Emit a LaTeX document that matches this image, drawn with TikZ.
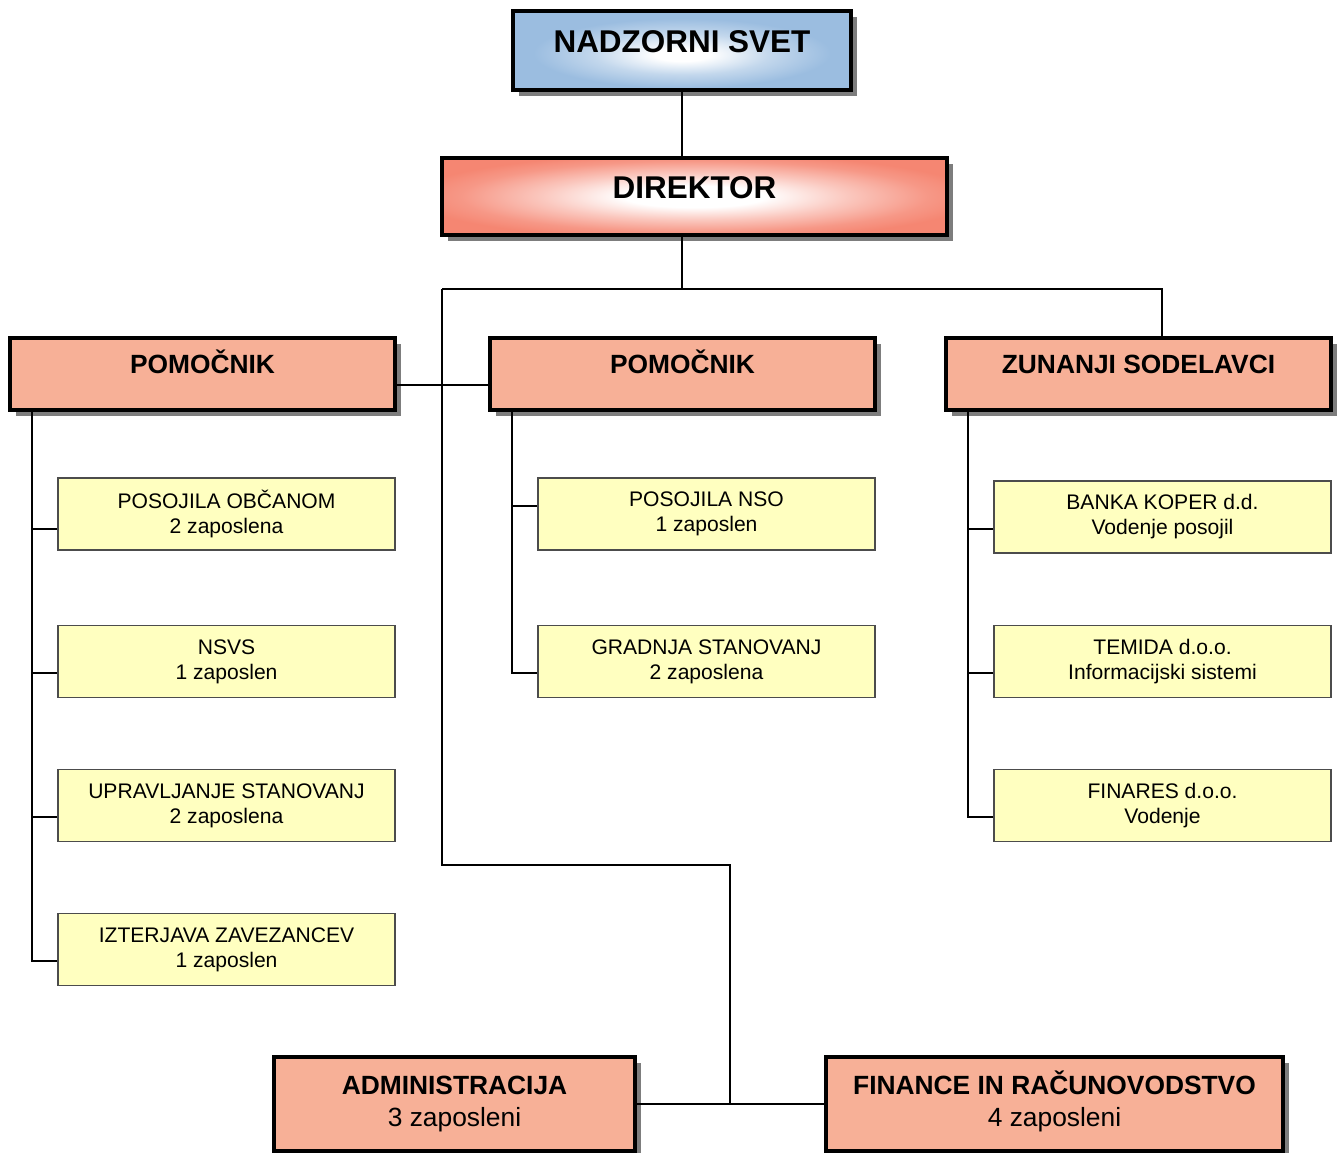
\documentclass[tikz,border=0pt]{standalone}
\usepackage{fontspec}
\setmainfont{Liberation Sans}
\usetikzlibrary{shadows}
\definecolor{svetblue}{RGB}{155,189,224}
\definecolor{dirred}{RGB}{245,134,114}
\definecolor{salmon}{RGB}{247,176,151}
\definecolor{paleyellow}{RGB}{255,255,192}
\definecolor{shadowgray}{RGB}{125,125,125}
\pgfdeclareradialshading{svetglow}{\pgfpoint{0bp}{-3bp}}{color(0bp)=(white); color(4bp)=(white);
  color(13bp)=(svetblue!60!white); color(22bp)=(svetblue); color(50bp)=(svetblue)}
\pgfdeclareradialshading{dirglow}{\pgfpoint{0bp}{0bp}}{color(0bp)=(white); color(7bp)=(white);
  color(15bp)=(dirred!45!white); color(23bp)=(dirred!85!white); color(28bp)=(dirred); color(50bp)=(dirred)}
\tikzset{
  mainbox/.style={draw, line width=2.2pt, rectangle,
    drop shadow={shadow xshift=0.12cm, shadow yshift=-0.12cm, fill=shadowgray, opacity=1}},
  topbox/.style={mainbox, font={\fontsize{17.9}{21.5}\selectfont\bfseries},
    text height=0.72em, text depth=0.5em},
  headbox/.style={mainbox, fill=salmon, minimum width=7.7cm, minimum height=1.44cm,
    font={\fontsize{15}{18}\selectfont\bfseries}, text height=0.72em, text depth=0.76em},
  staffbox/.style={mainbox, fill=salmon, minimum height=1.88cm, align=center,
    font={\fontsize{15}{18.1}\selectfont}, text height=28.8pt, text depth=3.2pt},
  unitbox/.style={draw=black!70, line width=0.9pt, fill=paleyellow, minimum width=6.74cm,
    minimum height=1.44cm, align=center, font={\fontsize{12}{14.2}\selectfont}},
  link/.style={line width=1.1pt}
}
\begin{document}
\begin{tikzpicture}[x=0.02cm, y=-0.02cm]
    \useasboundingbox (0,0) rectangle (1340,1153);
    % top of the chart
    \node[topbox, shading=svetglow, minimum width=6.76cm, minimum height=1.58cm] (svet) at (682,50.5) {NADZORNI SVET};
    \node[topbox, shading=dirglow, minimum width=10.1cm, minimum height=1.54cm] (direktor) at (694.5,196.5) {DIREKTOR};
    % sector heads
    \node[headbox] (pomocnikL) at (202.5,374) {POMOČNIK};
    \node[headbox] (pomocnikM) at (682.5,374) {POMOČNIK};
    \node[headbox] (zunanji) at (1138.5,374) {ZUNANJI SODELAVCI};
    % units
    \node[unitbox] (obcani) at (226.5,514) {POSOJILA OBČANOM\\2 zaposlena};
    \node[unitbox] (nsvs) at (226.5,661.5) {NSVS\\1 zaposlen};
    \node[unitbox] (upravljanje) at (226.5,805.5) {UPRAVLJANJE STANOVANJ\\2 zaposlena};
    \node[unitbox] (izterjava) at (226.5,949.5) {IZTERJAVA ZAVEZANCEV\\1 zaposlen};
    \node[unitbox] (nso) at (706.5,514) {POSOJILA NSO\\1 zaposlen};
    \node[unitbox] (gradnja) at (706.5,661.5) {GRADNJA STANOVANJ\\2 zaposlena};
    \node[unitbox] (banka) at (1162.5,517) {BANKA KOPER d.d.\\Vodenje posojil};
    \node[unitbox] (temida) at (1162.5,661.5) {TEMIDA d.o.o.\\Informacijski sistemi};
    \node[unitbox] (finares) at (1162.5,805.5) {FINARES d.o.o.\\Vodenje};
    % staff
    \node[staffbox, minimum width=7.22cm] (admin) at (454.5,1104) {\textbf{ADMINISTRACIJA}\\3 zaposleni};
    \node[staffbox, minimum width=9.14cm] (finance) at (1054.5,1104) {\textbf{FINANCE IN RAČUNOVODSTVO}\\4 zaposleni};
    % main lines
    \coordinate (busL) at (442,289);
    \coordinate (busR) at (1162,289);
    \coordinate (staffbend) at (730,865);
    \draw[link] (svet.south) -- (svet.south |- direktor.north);
    \draw[link] (svet.south |- direktor.south) -- (svet.south |- busL);
    \draw[link] (busL) -- (busR) -- (busR |- zunanji.north);
    \draw[link] (busL) |- (staffbend) -- (staffbend |- admin.east);
    \draw[link] (admin.east) -- (finance.west);
    \draw[link] ([yshift=-0.22cm]pomocnikL.east) -- ([yshift=-0.22cm]pomocnikM.west);
    % rails to the units
    \draw[link] ([yshift=-0.3cm]obcani.west) -| ([xshift=0.48cm]pomocnikL.south west);
    \draw[link] ([yshift=-0.23cm]nsvs.west) -| ([xshift=0.48cm]pomocnikL.south west);
    \draw[link] ([yshift=-0.23cm]upravljanje.west) -| ([xshift=0.48cm]pomocnikL.south west);
    \draw[link] ([yshift=-0.23cm]izterjava.west) -| ([xshift=0.48cm]pomocnikL.south west);
    \draw[link] ([yshift=0.16cm]nso.west) -| ([xshift=0.48cm]pomocnikM.south west);
    \draw[link] ([yshift=-0.23cm]gradnja.west) -| ([xshift=0.48cm]pomocnikM.south west);
    \draw[link] ([yshift=-0.24cm]banka.west) -| ([xshift=0.48cm]zunanji.south west);
    \draw[link] ([yshift=-0.23cm]temida.west) -| ([xshift=0.48cm]zunanji.south west);
    \draw[link] ([yshift=-0.23cm]finares.west) -| ([xshift=0.48cm]zunanji.south west);
\end{tikzpicture}
\end{document}
